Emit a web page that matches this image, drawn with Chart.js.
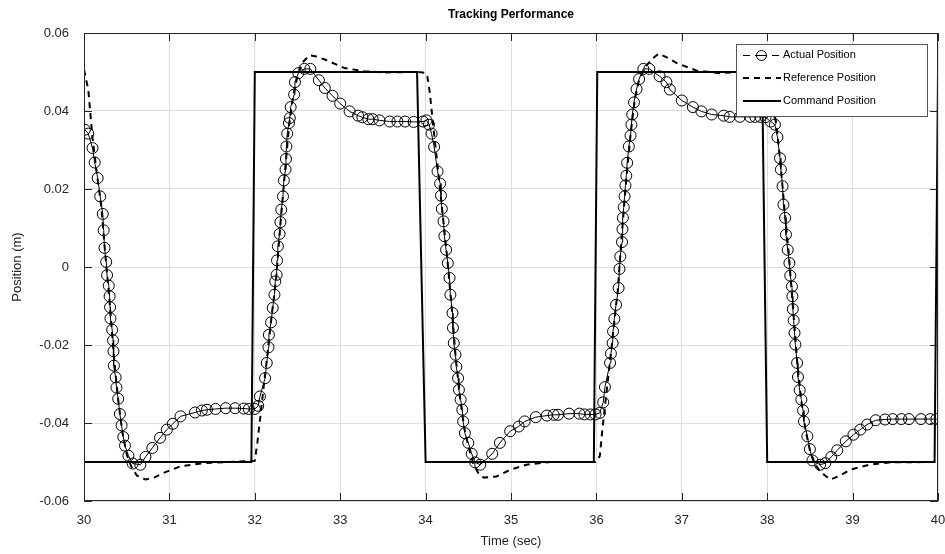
<!DOCTYPE html>
<html>
<head>
<meta charset="utf-8">
<title>Tracking Performance</title>
<script src="https://cdn.jsdelivr.net/npm/chart.js@4.4.1/dist/chart.umd.min.js"></script>
<style>
  html, body { margin: 0; padding: 0; background: #fff; }
  canvas { display: block; }
</style>
</head>
<body>
<canvas id="tracking" width="945" height="554"></canvas>
<script>
// axis ticks
const xTicks = [30, 31, 32, 33, 34, 35, 36, 37, 38, 39, 40];
const xTickLabels = ['30', '31', '32', '33', '34', '35', '36', '37', '38', '39', '40'];
const yTicks = [-0.06, -0.04, -0.02, 0, 0.02, 0.04, 0.06];
const yTickLabels = ['-0.06', '-0.04', '-0.02', '0', '0.02', '0.04', '0.06'];

// measured position (solver output, uneven time steps)
const actualTime = [
  30.01, 30.05, 30.10, 30.125, 30.16, 30.19, 30.22, 30.23, 30.24, 30.26,
  30.27, 30.29, 30.30, 30.305, 30.31, 30.33, 30.34, 30.345, 30.35, 30.37,
  30.38, 30.40, 30.42, 30.44, 30.46, 30.48, 30.52, 30.57, 30.66, 30.72,
  30.80, 30.89, 30.97, 31.04, 31.13, 31.30, 31.38, 31.44, 31.54, 31.66,
  31.77, 31.87, 31.93, 32.00, 32.04, 32.06, 32.12, 32.14, 32.16, 32.165,
  32.19, 32.21, 32.23, 32.24, 32.255, 32.26, 32.27, 32.29, 32.30, 32.31,
  32.33, 32.34, 32.36, 32.365, 32.37, 32.38, 32.40, 32.41, 32.42, 32.46,
  32.47, 32.51, 32.58, 32.65, 32.75, 32.82, 32.91, 33.00, 33.11, 33.21,
  33.26, 33.33, 33.38, 33.46, 33.58, 33.67, 33.76, 33.86, 33.97, 34.01,
  34.04, 34.07, 34.10, 34.14, 34.17, 34.18, 34.19, 34.21, 34.22, 34.24,
  34.26, 34.28, 34.29, 34.315, 34.32, 34.33, 34.35, 34.36, 34.38, 34.39,
  34.41, 34.43, 34.44, 34.46, 34.50, 34.54, 34.58, 34.64, 34.78, 34.87,
  34.99, 35.09, 35.16, 35.29, 35.42, 35.50, 35.55, 35.68, 35.80, 35.86,
  35.93, 35.99, 36.04, 36.08, 36.10, 36.16, 36.17, 36.19, 36.195, 36.21,
  36.23, 36.26, 36.27, 36.28, 36.30, 36.305, 36.31, 36.32, 36.33, 36.34,
  36.35, 36.36, 36.38, 36.40, 36.41, 36.42, 36.44, 36.47, 36.50, 36.55,
  36.62, 36.74, 36.82, 36.86, 37.00, 37.13, 37.23, 37.35, 37.49, 37.56,
  37.68, 37.80, 37.86, 37.92, 37.98, 38.04, 38.09, 38.12, 38.15, 38.16,
  38.18, 38.19, 38.21, 38.22, 38.24, 38.26, 38.27, 38.29, 38.295, 38.30,
  38.31, 38.32, 38.33, 38.35, 38.36, 38.38, 38.40, 38.42, 38.43, 38.47,
  38.50, 38.53, 38.62, 38.68, 38.75, 38.82, 38.92, 39.01, 39.09, 39.17,
  39.27, 39.38, 39.47, 39.57, 39.66, 39.80, 39.91, 39.98
];
const actualPos = [
  0.0352, 0.0342, 0.0305, 0.0268, 0.0228, 0.0181, 0.0136, 0.0094, 0.0049, 0.0013,
  -0.0021, -0.0048, -0.0075, -0.0103, -0.0132, -0.0161, -0.0188, -0.0216, -0.0253, -0.0283,
  -0.0309, -0.0338, -0.0377, -0.0406, -0.0436, -0.0458, -0.0484, -0.0504, -0.0507, -0.0487,
  -0.0464, -0.0438, -0.0417, -0.0402, -0.0383, -0.0373, -0.0368, -0.0366, -0.0364, -0.0362,
  -0.0362, -0.0363, -0.0364, -0.0364, -0.0356, -0.0332, -0.0285, -0.0246, -0.0206, -0.0174,
  -0.0142, -0.0105, -0.0071, -0.0037, -0.0020, 0.0017, 0.0053, 0.0085, 0.0115, 0.0147,
  0.0181, 0.0222, 0.0250, 0.0277, 0.0309, 0.0342, 0.0369, 0.0382, 0.0410, 0.0442,
  0.0474, 0.0497, 0.0508, 0.0508, 0.0479, 0.0459, 0.0439, 0.0419, 0.0399, 0.0388,
  0.0384, 0.0379, 0.0379, 0.0376, 0.0373, 0.0373, 0.0373, 0.0372, 0.0373, 0.0376,
  0.0365, 0.0342, 0.0308, 0.0245, 0.0214, 0.0183, 0.0149, 0.0117, 0.0079, 0.0044,
  0.0010, -0.0028, -0.0071, -0.0118, -0.0156, -0.0195, -0.0225, -0.0256, -0.0285, -0.0315,
  -0.0340, -0.0366, -0.0396, -0.0426, -0.0451, -0.0479, -0.0501, -0.0507, -0.0479, -0.0451,
  -0.0421, -0.0409, -0.0396, -0.0385, -0.0381, -0.0379, -0.0379, -0.0376, -0.0376, -0.0378,
  -0.0378, -0.0378, -0.0374, -0.0347, -0.0308, -0.0246, -0.0222, -0.0195, -0.0165, -0.0133,
  -0.0097, -0.0054, -0.0005, 0.0027, 0.0064, 0.0097, 0.0126, 0.0153, 0.0181, 0.0209,
  0.0234, 0.0267, 0.0309, 0.0337, 0.0365, 0.0391, 0.0422, 0.0456, 0.0482, 0.0508,
  0.0508, 0.0489, 0.0474, 0.0455, 0.0427, 0.0410, 0.0399, 0.0391, 0.0388, 0.0385,
  0.0385, 0.0385, 0.0385, 0.0385, 0.0384, 0.0373, 0.0365, 0.0333, 0.0279, 0.0250,
  0.0207, 0.0160, 0.0126, 0.0083, 0.0044, 0.0010, -0.0022, -0.0050, -0.0075, -0.0108,
  -0.0137, -0.0169, -0.0199, -0.0246, -0.0282, -0.0316, -0.0340, -0.0368, -0.0396, -0.0434,
  -0.0467, -0.0496, -0.0507, -0.0503, -0.0487, -0.0470, -0.0447, -0.0430, -0.0417, -0.0404,
  -0.0393, -0.0391, -0.0390, -0.0390, -0.0390, -0.0390, -0.0390, -0.0390
];

// reference model output
const refTime = [
  30.00, 30.05, 30.10, 30.15, 30.20, 30.25, 30.30, 30.35, 30.40, 30.45,
  30.50, 30.55, 30.62, 30.72, 30.82, 30.93, 31.13, 31.40, 31.70, 32.00,
  32.03, 32.07, 32.10, 32.15, 32.20, 32.25, 32.30, 32.35, 32.40, 32.45,
  32.50, 32.56, 32.64, 32.72, 32.82, 33.05, 33.28, 33.52, 33.90, 34.00,
  34.02, 34.05, 34.07, 34.10, 34.15, 34.20, 34.25, 34.30, 34.35, 34.40,
  34.45, 34.50, 34.56, 34.62, 34.68, 34.83, 34.99, 35.18, 35.46, 35.99,
  36.04, 36.07, 36.10, 36.15, 36.20, 36.25, 36.30, 36.35, 36.40, 36.45,
  36.50, 36.58, 36.66, 36.73, 36.83, 36.94, 37.17, 37.45, 37.64, 38.00,
  38.03, 38.06, 38.09, 38.12, 38.16, 38.20, 38.25, 38.30, 38.35, 38.40,
  38.45, 38.50, 38.56, 38.62, 38.74, 38.85, 38.97, 39.20, 39.43, 40.00
];
const refPos = [
  0.0506, 0.0455, 0.0330, 0.0240, 0.0160, 0.0030, -0.0090, -0.0230, -0.0340, -0.0425,
  -0.0480, -0.0510, -0.0535, -0.0545, -0.0540, -0.0528, -0.0511, -0.0503, -0.0500, -0.0497,
  -0.0451, -0.0374, -0.0315, -0.0220, -0.0120, -0.0030, 0.0110, 0.0235, 0.0360, 0.0440,
  0.0490, 0.0525, 0.0543, 0.0540, 0.0532, 0.0510, 0.0502, 0.0499, 0.0500, 0.0498,
  0.0489, 0.0446, 0.0403, 0.0340, 0.0240, 0.0135, 0.0030, -0.0090, -0.0225, -0.0330,
  -0.0410, -0.0460, -0.0505, -0.0530, -0.0540, -0.0537, -0.0520, -0.0507, -0.0500, -0.0500,
  -0.0485, -0.0417, -0.0357, -0.0260, -0.0160, -0.0060, 0.0090, 0.0225, 0.0340, 0.0430,
  0.0480, 0.0515, 0.0535, 0.0547, 0.0537, 0.0523, 0.0504, 0.0497, 0.0500, 0.0500,
  0.0480, 0.0440, 0.0390, 0.0340, 0.0255, 0.0155, 0.0040, -0.0100, -0.0240, -0.0345,
  -0.0420, -0.0470, -0.0505, -0.0525, -0.0545, -0.0535, -0.0520, -0.0507, -0.0501, -0.0500
];

// square-wave command
const cmdTime = [30, 31.96, 32.0, 33.9, 34.0, 35.97, 36.01, 37.94, 38.0, 39.96, 40];
const cmdPos = [-0.05, -0.05, 0.05, 0.05, -0.05, -0.05, 0.05, 0.05, -0.05, -0.05, 0.05];

const toPoints = (xs, ys) => xs.map((x, i) => ({ x: x, y: ys[i] }));

const FONT = "'Liberation Sans', Arial, Helvetica, sans-serif";
const INK = '#262626';

// box, inner tick marks, title and legend drawn on top of the plot
const axesFrame = {
  id: 'axesFrame',
  afterDraw(chart) {
    const { ctx, chartArea: a, scales: { x, y } } = chart;
    ctx.save();
    ctx.strokeStyle = INK;
    ctx.lineWidth = 1;
    ctx.beginPath();
    xTicks.forEach(v => {
      const px = Math.round(x.getPixelForValue(v)) + 0.5;
      ctx.moveTo(px, a.bottom); ctx.lineTo(px, a.bottom - 8);
      ctx.moveTo(px, a.top); ctx.lineTo(px, a.top + 8);
    });
    yTicks.forEach(v => {
      const py = Math.round(y.getPixelForValue(v)) + 0.5;
      ctx.moveTo(a.left, py); ctx.lineTo(a.left + 8, py);
      ctx.moveTo(a.right, py); ctx.lineTo(a.right - 8, py);
    });
    ctx.stroke();
    ctx.strokeRect(a.left + 0.5, a.top + 0.5, a.right - a.left - 1, a.bottom - a.top - 1);

    // title
    ctx.fillStyle = '#000';
    ctx.font = 'bold 12px ' + FONT;
    ctx.textAlign = 'center';
    ctx.textBaseline = 'middle';
    ctx.fillText('Tracking Performance', (a.left + a.right) / 2, 15);

    // legend
    const lx = 736, ly = 44, lw = 191, lh = 72;
    ctx.fillStyle = '#fff';
    ctx.fillRect(lx, ly, lw, lh);
    ctx.strokeStyle = '#555';
    ctx.strokeRect(lx + 0.5, ly + 0.5, lw, lh);
    const rows = [55, 78, 101];
    ctx.strokeStyle = '#000';
    // actual: thin line with open circle
    ctx.lineWidth = 1;
    ctx.beginPath();
    ctx.moveTo(743, rows[0] + 0.5); ctx.lineTo(750, rows[0] + 0.5);
    ctx.moveTo(755, rows[0] + 0.5); ctx.lineTo(767, rows[0] + 0.5);
    ctx.moveTo(772, rows[0] + 0.5); ctx.lineTo(779, rows[0] + 0.5);
    ctx.stroke();
    ctx.beginPath();
    ctx.arc(761.5, rows[0] + 0.5, 5, 0, Math.PI * 2);
    ctx.stroke();
    // reference: dashed
    ctx.lineWidth = 2;
    ctx.setLineDash([6, 5]);
    ctx.beginPath();
    ctx.moveTo(743, rows[1]); ctx.lineTo(781, rows[1]);
    ctx.stroke();
    ctx.setLineDash([]);
    // command: solid
    ctx.beginPath();
    ctx.moveTo(743, rows[2]); ctx.lineTo(781, rows[2]);
    ctx.stroke();
    ctx.fillStyle = '#000';
    ctx.font = '11px ' + FONT;
    ctx.textAlign = 'left';
    ['Actual Position', 'Reference Position', 'Command Position'].forEach((t, i) => {
      ctx.fillText(t, 783, rows[i]);
    });
    ctx.restore();
  }
};

new Chart(document.getElementById('tracking'), {
  type: 'scatter',
  data: {
    datasets: [
      {
        label: 'Actual Position',
        data: toPoints(actualTime, actualPos),
        showLine: true,
        borderColor: '#000',
        borderWidth: 1,
        pointStyle: 'circle',
        pointRadius: 5.5,
        pointBorderWidth: 1,
        pointBorderColor: '#000',
        pointBackgroundColor: 'rgba(0,0,0,0)',
        order: 3
      },
      {
        label: 'Reference Position',
        data: toPoints(refTime, refPos),
        showLine: true,
        borderColor: '#000',
        borderWidth: 2,
        borderDash: [6, 5],
        pointRadius: 0,
        order: 2
      },
      {
        label: 'Command Position',
        data: toPoints(cmdTime, cmdPos),
        showLine: true,
        borderColor: '#000',
        borderWidth: 2,
        pointRadius: 0,
        order: 1
      }
    ]
  },
  options: {
    responsive: false,
    animation: false,
    devicePixelRatio: 1,
    layout: { padding: { top: 33, right: 7, left: 0, bottom: 0 } },
    plugins: {
      legend: { display: false },
      title: { display: false },
      tooltip: { enabled: false }
    },
    scales: {
      x: {
        type: 'linear',
        min: 30,
        max: 40,
        afterBuildTicks: s => { s.ticks = xTicks.map(v => ({ value: v })); },
        afterFit: s => { s.height = 53; s.paddingLeft = 0; s.paddingRight = 0; },
        ticks: {
          padding: 12,
          color: INK,
          font: { family: FONT, size: 13 },
          callback: (v, i) => xTickLabels[i]
        },
        grid: { color: '#dedede', lineWidth: 1, drawTicks: false },
        border: { display: false },
        title: {
          display: true,
          text: 'Time (sec)',
          color: INK,
          font: { family: FONT, size: 13 },
          padding: { top: 0, bottom: 5 }
        }
      },
      y: {
        type: 'linear',
        min: -0.06,
        max: 0.06,
        afterBuildTicks: s => { s.ticks = yTicks.map(v => ({ value: v })); },
        afterFit: s => { s.width = 84; s.paddingTop = 0; s.paddingBottom = 0; },
        ticks: {
          padding: 15,
          color: INK,
          font: { family: FONT, size: 13 },
          callback: (v, i) => yTickLabels[i]
        },
        grid: { color: '#dedede', lineWidth: 1, drawTicks: false },
        border: { display: false },
        title: {
          display: true,
          text: 'Position (m)',
          color: INK,
          font: { family: FONT, size: 13 },
          padding: { top: 10, bottom: 0 }
        }
      }
    }
  },
  plugins: [axesFrame]
});
</script>
</body>
</html>
